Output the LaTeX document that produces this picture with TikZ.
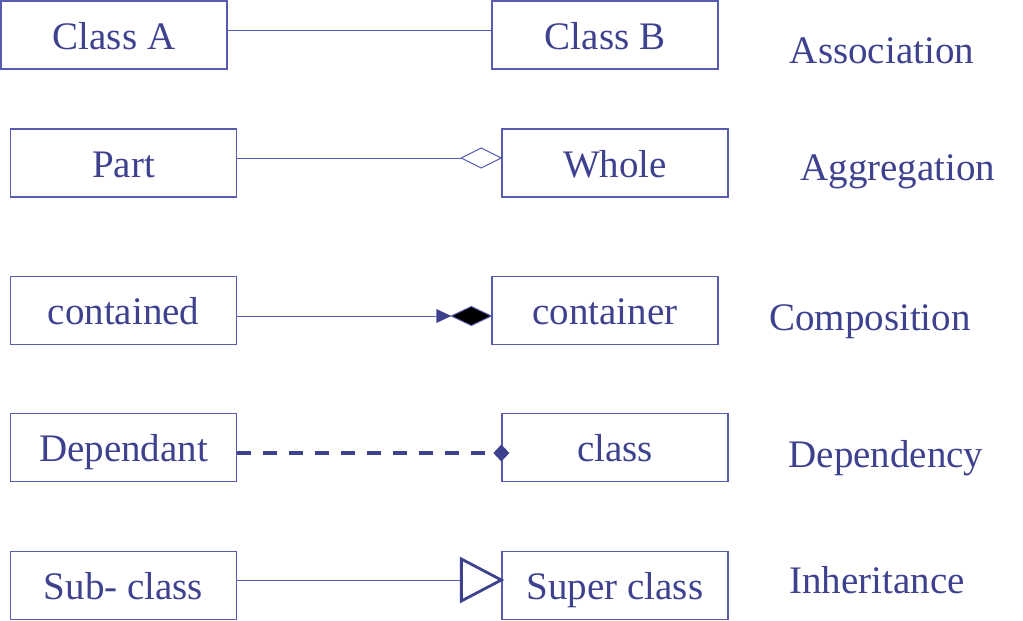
\documentclass[tikz,border=0pt]{standalone}
\usepackage{fontspec}
\setmainfont{Liberation Serif}
\usetikzlibrary{calc}
\definecolor{ln}{RGB}{88,92,176}
\definecolor{tx}{RGB}{62,66,142}
\begin{document}
\begin{tikzpicture}[x=1pt,y=-1pt,
  umlbox/.style={draw=ln, line width=1.3pt, minimum width=226pt, minimum height=68pt, inner sep=0pt,
    text=tx, font=\fontsize{39}{41}\selectfont, text height=28pt, text depth=0pt},
  kind/.style={text=tx, font=\fontsize{39}{41}\selectfont, anchor=base, inner sep=0pt},
  conn/.style={draw=ln, line width=1pt}]
\useasboundingbox (0,0) rectangle (1023,621);
% row 1
\node[umlbox] (A) at (114,35) {Class A};
\node[umlbox] (B) at (605,35) {Class B};
\node[kind] (l1) at (882,63) {Association};
\draw[conn] ([yshift=5pt]A.east) -- ([yshift=5pt]B.west);
% row 2
\node[umlbox] (part) at (123.5,163) {Part};
\node[umlbox] (whole) at (615,163) {Whole};
\node[kind] (l2) at (898,180) {Aggregation};
\coordinate (w) at ([yshift=5pt]whole.west);
\draw[conn] ([yshift=5pt]part.east) -- ($(w)+(-40,0)$);
\draw[conn] (w) -- ++(-20,-10) -- ++(-20,10) -- ++(20,10) -- cycle;
% row 3
\node[umlbox] (cd) at (123.5,310.5) {contained};
\node[umlbox] (cr) at (605,310.5) {container};
\node[kind] (l3) at (870,330) {Composition};
\coordinate (c) at ([yshift=-5.5pt]cr.west);
\draw[conn] ([yshift=-5.5pt]cd.east) -- ($(c)+(-55,0)$);
\draw[draw=ln, line width=1pt, fill=black] (c) -- ++(-20,-9.5) -- ++(-20,9.5) -- ++(20,9.5) -- cycle;
\fill[tx] ($(c)+(-40,0)$) -- ++(-15,-7) -- ++(0,14) -- cycle;
% row 4
\node[umlbox] (dep) at (123.5,447.5) {Dependant};
\node[umlbox] (cl) at (615,447.5) {class};
\node[kind] (l4) at (886,467) {Dependency};
\coordinate (d) at ([yshift=-5.5pt]cl.west);
\draw[draw=tx, line width=3.8pt, dash pattern=on 14pt off 12pt] ([yshift=-5.5pt]dep.east) -- ($(d)+(-8,0)$);
\fill[tx] ($(d)+(-8,0)$) -- ++(8,-8.5) -- ++(8,8.5) -- ++(-8,8.5) -- cycle;
% row 5
\node[umlbox] (sub) at (123.5,585.5) {Sub- class};
\node[umlbox] (sup) at (615,585.5) {Super class};
\node[kind] (l5) at (877,593) {Inheritance};
\coordinate (s) at ([yshift=5.5pt]sup.west);
\draw[conn] ([yshift=5.5pt]sub.east) -- ($(s)+(-40,0)$);
\draw[draw=tx, line width=2.8pt, line join=miter] (s) -- ++(-40,-21) -- ++(0,42) -- cycle;
\end{tikzpicture}
\end{document}
